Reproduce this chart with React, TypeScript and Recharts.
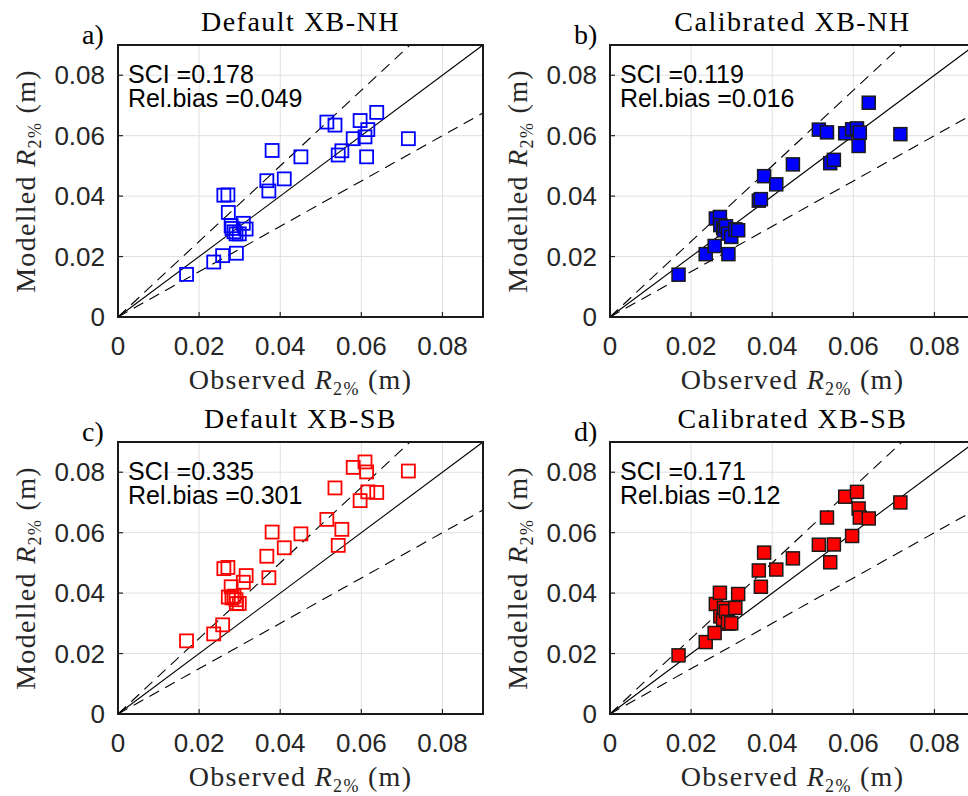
import React from "react";
import {
  ScatterChart,
  Scatter,
  XAxis,
  YAxis,
  CartesianGrid,
} from "recharts";

// observed R2% (m), shared by all four panels
const OBSERVED = [
  0.0169, 0.0236, 0.0258, 0.0292, 0.0261, 0.0271, 0.0272, 0.0279, 0.0281, 0.0286,
  0.0291, 0.0299, 0.0309, 0.0316, 0.0367, 0.0372, 0.038, 0.041, 0.0451, 0.0515,
  0.0535, 0.0543, 0.0552, 0.058, 0.0597, 0.0609, 0.0613, 0.0616, 0.0638, 0.0716,
];

// modelled R2% (m) per panel
const DEFAULT_NH = [
  0.0141, 0.0182, 0.0203, 0.0211, 0.0403, 0.0404, 0.0346, 0.0302, 0.0293, 0.0282,
  0.0275, 0.0275, 0.031, 0.0291, 0.0451, 0.0417, 0.0551, 0.0457, 0.053, 0.0645,
  0.0635, 0.0536, 0.055, 0.059, 0.065, 0.0596, 0.053, 0.062, 0.0677, 0.059,
];
const CALIBRATED_NH = [
  0.014, 0.0208, 0.0235, 0.0208, 0.0326, 0.0331, 0.0304, 0.0295, 0.0287, 0.03,
  0.0276, 0.0265, 0.029, 0.0287, 0.0385, 0.039, 0.0466, 0.0439, 0.0505, 0.062,
  0.0611, 0.0509, 0.052, 0.0608, 0.0621, 0.0624, 0.0566, 0.061, 0.0709, 0.0605,
];
const DEFAULT_SB = [
  0.0242, 0.0265, 0.0295, 0.0365, 0.0481, 0.0485, 0.0387, 0.0421, 0.0384, 0.039,
  0.0378, 0.0366, 0.0436, 0.0458, 0.0522, 0.0451, 0.0602, 0.055, 0.0596, 0.0644,
  0.0748, 0.0558, 0.0611, 0.0816, 0.0706, 0.0834, 0.0801, 0.0735, 0.0733, 0.0804,
];
const CALIBRATED_SB = [
  0.0194, 0.0238, 0.0268, 0.0299, 0.0364, 0.0401, 0.0323, 0.0314, 0.0351, 0.034,
  0.0305, 0.03, 0.0351, 0.0397, 0.0475, 0.0421, 0.0534, 0.0478, 0.0515, 0.056,
  0.065, 0.0502, 0.0561, 0.0719, 0.0589, 0.0735, 0.068, 0.065, 0.0647, 0.07,
];

const TICKS = [0, 0.02, 0.04, 0.06, 0.08];
const LIMIT = 0.09;
const BAND = 0.25; // +/-25% dashed lines

const PANELS = [
  { letter: "a)", title: "Default XB-NH", sci: "0.178", bias: "0.049", color: "#0000ff", filled: false, values: DEFAULT_NH },
  { letter: "b)", title: "Calibrated XB-NH", sci: "0.119", bias: "0.016", color: "#0000ff", filled: true, values: CALIBRATED_NH },
  { letter: "c)", title: "Default XB-SB", sci: "0.335", bias: "0.301", color: "#ff0000", filled: false, values: DEFAULT_SB },
  { letter: "d)", title: "Calibrated XB-SB", sci: "0.171", bias: "0.12", color: "#ff0000", filled: true, values: CALIBRATED_SB },
];

const W = 492;
const H = 397;
const PLOT_LEFT = 118;
const PLOT_TOP = 45;
const PLOT_W = 365;
const PLOT_H = 272;

const SANS = "'Liberation Sans', Arial, Helvetica, sans-serif";
const SERIF = "'Liberation Serif', 'Times New Roman', serif";
const AXIS_COLOR = "#262626";
const AXIS_LINE = { stroke: AXIS_COLOR, strokeWidth: 2 };
const TICK_LINE = { stroke: AXIS_COLOR, strokeWidth: 1.2 };

const oneToOne = [{ x: 0, y: 0 }, { x: LIMIT, y: LIMIT }];
const upper = [{ x: 0, y: 0 }, { x: LIMIT / (1 + BAND), y: LIMIT }];
const lower = [{ x: 0, y: 0 }, { x: LIMIT, y: LIMIT * (1 - BAND) }];

const fmt = (v: number) => (v === 0 ? "0" : v.toFixed(2));
const noShape = () => <g />;

function makeSquare(color: string, filled: boolean) {
  return (props: any) => {
    const { cx, cy } = props;
    return (
      <rect
        x={cx - 6.5}
        y={cy - 6.5}
        width={13}
        height={13}
        fill={filled ? color : "none"}
        stroke={filled ? "#1a1a1a" : color}
        strokeWidth={filled ? 1.5 : 1.8}
      />
    );
  };
}

function AxisLabel({ x, y, rotate, text }: { x: number; y: number; rotate?: boolean; text: string }) {
  return (
    <text
      transform={`translate(${x}, ${y})${rotate ? " rotate(-90)" : ""}`}
      textAnchor="middle"
      fontFamily={SERIF}
      fontSize={28}
      letterSpacing={1.3}
      fill={AXIS_COLOR}
    >
      {text} <tspan fontStyle="italic">R</tspan>
      <tspan fontSize={18} dy={6}>2%</tspan>
      <tspan dy={-6}> (m)</tspan>
    </text>
  );
}

function Panel({ panel }: { panel: (typeof PANELS)[number] }) {
  const points = OBSERVED.map((x, i) => ({ x, y: panel.values[i] }));
  const cx = PLOT_LEFT + PLOT_W / 2;
  const cy = PLOT_TOP + PLOT_H / 2;
  return (
    <div style={{ position: "relative", width: W, height: H }}>
      <ScatterChart width={W} height={H} margin={{ top: PLOT_TOP, right: W - PLOT_LEFT - PLOT_W, left: 0, bottom: 0 }}>
        <CartesianGrid stroke="#e0e0e0" strokeWidth={1} />
        <XAxis
          type="number"
          dataKey="x"
          domain={[0, LIMIT]}
          ticks={TICKS}
          interval={0}
          tickFormatter={fmt}
          axisLine={AXIS_LINE}
          tickLine={TICK_LINE}
          tickSize={-5}
          tickMargin={25}
          height={H - PLOT_TOP - PLOT_H}
          tick={{ fontSize: 26, fill: AXIS_COLOR, fontFamily: SANS }}
        />
        <YAxis
          type="number"
          dataKey="y"
          domain={[0, LIMIT]}
          ticks={TICKS}
          interval={0}
          tickFormatter={fmt}
          axisLine={AXIS_LINE}
          tickLine={TICK_LINE}
          tickSize={-5}
          tickMargin={18}
          width={PLOT_LEFT}
          tick={{ fontSize: 26, fill: AXIS_COLOR, fontFamily: SANS }}
        />
        <XAxis
          xAxisId="top"
          orientation="top"
          type="number"
          dataKey="x"
          domain={[0, LIMIT]}
          ticks={TICKS}
          interval={0}
          mirror
          height={0}
          tick={false}
          axisLine={AXIS_LINE}
          tickLine={TICK_LINE}
          tickSize={5}
        />
        <YAxis
          yAxisId="right"
          orientation="right"
          type="number"
          dataKey="y"
          domain={[0, LIMIT]}
          ticks={TICKS}
          interval={0}
          mirror
          width={0}
          tick={false}
          axisLine={AXIS_LINE}
          tickLine={TICK_LINE}
          tickSize={5}
        />
        <Scatter xAxisId="top" yAxisId="right" data={upper} shape={noShape} line={{ stroke: "#000", strokeWidth: 1.1, strokeDasharray: "11 7" }} isAnimationActive={false} />
        <Scatter xAxisId="top" yAxisId="right" data={lower} shape={noShape} line={{ stroke: "#000", strokeWidth: 1.1, strokeDasharray: "11 7" }} isAnimationActive={false} />
        <Scatter xAxisId="top" yAxisId="right" data={oneToOne} shape={noShape} line={{ stroke: "#000", strokeWidth: 1.1 }} isAnimationActive={false} />
        <Scatter data={points} shape={makeSquare(panel.color, panel.filled)} isAnimationActive={false} />
      </ScatterChart>
      <svg width={W} height={H} overflow="visible" style={{ position: "absolute", left: 0, top: 0, pointerEvents: "none", overflow: "visible" }}>
        <text x={cx} y={31} textAnchor="middle" fontFamily={SERIF} fontSize={28} letterSpacing={1.5} fill="#000">
          {panel.title}
        </text>
        <text x={82} y={44} fontFamily={SERIF} fontSize={28} fill="#000">
          {panel.letter}
        </text>
        <text x={128} y={83} fontFamily={SANS} fontSize={25} fill="#000">
          {`SCI =${panel.sci}`}
        </text>
        <text x={128} y={107} fontFamily={SANS} fontSize={25} fill="#000">
          {`Rel.bias =${panel.bias}`}
        </text>
        <AxisLabel x={cx} y={389} text="Observed" />
        <AxisLabel x={35} y={cy} rotate text="Modelled" />
        <rect x={PLOT_LEFT} y={PLOT_TOP} width={PLOT_W} height={PLOT_H} fill="none" stroke="#1a1a1a" strokeWidth={2} />
      </svg>
    </div>
  );
}

export default function App() {
  return (
    <div style={{ position: "absolute", left: 0, top: 0, width: 968, height: 796, overflow: "hidden", background: "#fff" }}>
      {PANELS.map((p, i) => (
        <div key={p.letter} style={{ position: "absolute", left: (i % 2) * W, top: Math.floor(i / 2) * H }}>
          <Panel panel={p} />
        </div>
      ))}
    </div>
  );
}
